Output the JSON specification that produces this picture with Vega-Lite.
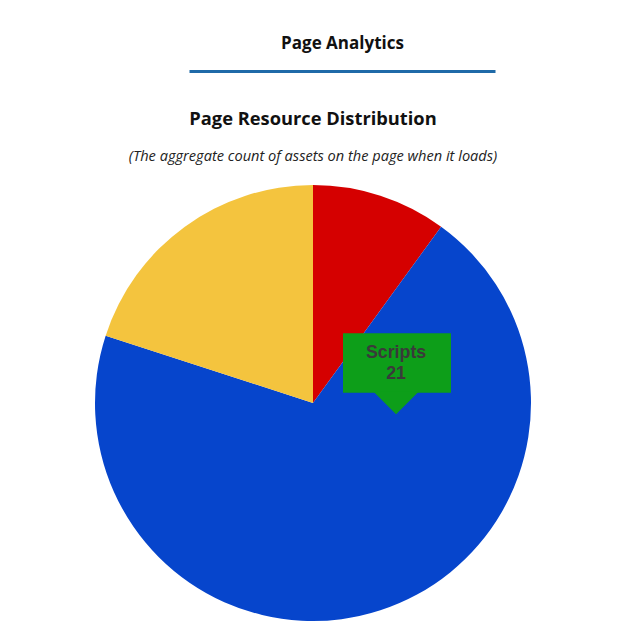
{
  "$schema": "https://vega.github.io/schema/vega-lite/v6.json",
  "background": "white",
  "padding": {"left": 0, "top": 34, "right": 12, "bottom": 15},
  "config": {"view": {"stroke": null}},
  "data": {"values": [
    {"category": "Stylesheets", "value": 3},
    {"category": "Scripts", "value": 21},
    {"category": "Images", "value": 6}
  ]},
  "spacing": 19,
  "vconcat": [
    {
      "width": 626,
      "height": 0,
      "mark": {"type": "rule", "opacity": 0},
      "encoding": {
        "x": {
          "datum": 0,
          "type": "quantitative",
          "scale": {"domain": [0, 1], "range": [189, 495], "nice": false},
          "axis": {
            "orient": "top",
            "title": "Page Analytics",
            "titleFont": "Open Sans",
            "titleFontSize": 17,
            "titleFontWeight": "bold",
            "titleColor": "#111111",
            "titlePadding": 19,
            "domainColor": "#1f6aa8",
            "domainWidth": 3,
            "ticks": false,
            "labels": false,
            "grid": false
          }
        }
      }
    },
    {
      "width": 626,
      "height": 436,
      "title": {
        "text": "Page Resource Distribution",
        "subtitle": "(The aggregate count of assets on the page when it loads)",
        "font": "Open Sans",
        "fontSize": 18.3,
        "fontWeight": "bold",
        "color": "#111111",
        "subtitleFont": "Open Sans",
        "subtitleFontSize": 14.6,
        "subtitleFontStyle": "italic",
        "subtitleColor": "#222222",
        "subtitlePadding": 20,
        "offset": 20,
        "anchor": "middle"
      },
      "layer": [
        {
          "mark": {"type": "arc", "strokeWidth": 0},
          "encoding": {
            "theta": {"field": "value", "type": "quantitative", "stack": true},
            "color": {
              "field": "category",
              "type": "nominal",
              "scale": {"domain": ["Stylesheets", "Scripts", "Images"], "range": ["#d50000", "#0645cc", "#f4c43e"]},
              "legend": null
            },
            "order": {"field": "category", "sort": "descending"}
          }
        },
        {
          "transform": [{"filter": "datum.category === 'Scripts'"}],
          "mark": {"type": "rect", "color": "#0d9e19"},
          "encoding": {
            "x": {"datum": 0.1376, "type": "quantitative", "scale": {"domain": [-1.4358, 1.4358], "nice": false, "zero": false}, "axis": null},
            "x2": {"datum": 0.633},
            "y": {"datum": 0.3197, "type": "quantitative", "scale": {"domain": [-1, 1], "nice": false, "zero": false}, "axis": null},
            "y2": {"datum": 0.047}
          }
        },
        {
          "transform": [{"filter": "datum.category === 'Scripts'"}],
          "mark": {"type": "point", "shape": "M-1,-0.05L1,-0.05L0,0.96Z", "size": 2025, "filled": true, "color": "#0d9e19", "opacity": 1, "strokeWidth": 0},
          "encoding": {
            "x": {"datum": 0.381, "type": "quantitative"},
            "y": {"datum": 0.047, "type": "quantitative"}
          }
        },
        {
          "transform": [{"filter": "datum.category === 'Scripts'"}],
          "mark": {"type": "text", "font": "Liberation Sans", "fontSize": 17.8, "fontWeight": "bold", "color": "#3a3a3a", "align": "center", "baseline": "alphabetic"},
          "encoding": {
            "x": {"datum": 0.381, "type": "quantitative"},
            "y": {"datum": 0.2078, "type": "quantitative"},
            "text": {"field": "category", "type": "nominal"}
          }
        },
        {
          "transform": [{"filter": "datum.category === 'Scripts'"}],
          "mark": {"type": "text", "font": "Liberation Sans", "fontSize": 17.8, "fontWeight": "bold", "color": "#3a3a3a", "align": "center", "baseline": "alphabetic"},
          "encoding": {
            "x": {"datum": 0.381, "type": "quantitative"},
            "y": {"datum": 0.1087, "type": "quantitative"},
            "text": {"field": "value", "type": "quantitative"}
          }
        }
      ]
    }
  ]
}
